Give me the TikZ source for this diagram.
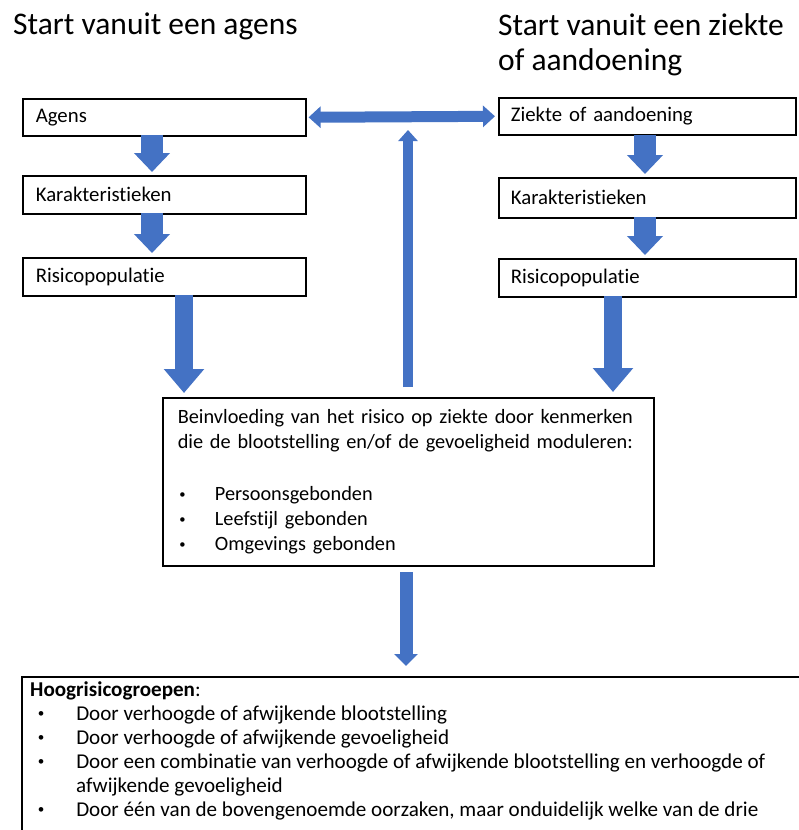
\documentclass[tikz,border=0pt]{standalone}
\usepackage{fontspec}
\setmainfont{Carlito}[Ligatures=NoCommon]
\usetikzlibrary{arrows.meta,positioning}
\definecolor{ablue}{HTML}{4472C4}
\newcommand\mybul{\makebox[0.5em][l]{\hspace{0.08em}\raisebox{0.12em}{\scalebox{0.62}{\textbullet}}}}
\tikzset{
  box/.style={draw=black, line width=1.6pt, anchor=north west, align=left, inner sep=0pt, font=\fontsize{20.8}{25}\selectfont},
  title/.style={anchor=base west, inner sep=0pt, font=\fontsize{31.5}{35}\selectfont, align=left},
  smallarr/.style={draw=ablue, line width=22pt, -{Triangle[width=35pt,length=19pt]}},
  bigarr/.style={draw=ablue, line width=18pt, -{Triangle[width=39pt,length=24pt]}},
  tips/.style={{Triangle[width=21pt,length=12pt]}-{Triangle[width=21pt,length=12pt]}},
}
\begin{document}
\begin{tikzpicture}[x=1pt,y=-1pt]
\useasboundingbox (0,0) rectangle (798,830);
% titles
\node[title] (t1) at (13,34) {Start vanuit een agens};
\node[title] (t2) at (498,70) {Start vanuit een ziekte\\of aandoening};
% left column boxes
\node[box, minimum width=283pt, minimum height=37pt, text width=283pt] (a1) at (22,98) {\hspace*{13pt}Agens};
\node[box, minimum width=283pt, minimum height=38pt, text width=283pt] (a2) at (22,175) {\hspace*{13pt}Karakteristieken};
\node[box, minimum width=283pt, minimum height=38pt, text width=283pt] (a3) at (22,257) {\hspace*{13pt}Risicopopulatie};
% right column boxes
\node[box, minimum width=297pt, minimum height=37pt, text width=297pt] (z1) at (498,97) {\hspace*{12pt}Ziekte of aandoening};
\node[box, minimum width=297pt, minimum height=40pt, text width=297pt] (z2) at (498,177) {\hspace*{12pt}Karakteristieken};
\node[box, minimum width=297pt, minimum height=38pt, text width=297pt] (z3) at (498,258) {\hspace*{12pt}Risicopopulatie};
% middle box
\node[box, minimum width=491pt, minimum height=168pt, text width=491pt, font=\fontsize{20.3}{25}\selectfont] (m) at (162,397) {%
\hspace*{15pt}Beinvloeding van het risico op ziekte door kenmerken\\
\hspace*{15pt}die de blootstelling en/of de gevoeligheid moduleren:\\[27pt]
\hspace*{15pt}\mybul\hspace{27pt}Persoonsgebonden\\
\hspace*{15pt}\mybul\hspace{27pt}Leefstijl gebonden\\
\hspace*{15pt}\mybul\hspace{27pt}Omgevings gebonden};
% bottom box
\draw[line width=1.6pt] (22,840) -- (22,677) -- (810,677);
\node[anchor=base west, inner sep=0pt, align=left, font=\fontsize{21.1}{24}\selectfont] (b) at (30,816) {%
\textbf{Hoogrisicogroepen}:\\
\hspace*{6pt}\mybul\hspace{29.5pt}Door verhoogde of afwijkende blootstelling\\
\hspace*{6pt}\mybul\hspace{29.5pt}Door verhoogde of afwijkende gevoeligheid\\
\hspace*{6pt}\mybul\hspace{29.5pt}Door een combinatie van verhoogde of afwijkende blootstelling en verhoogde of\\
\hspace*{46pt}afwijkende gevoeligheid\\
\hspace*{6pt}\mybul\hspace{29.5pt}Door één van de bovengenoemde oorzaken, maar onduidelijk welke van de drie};
% arrows left column
\draw[smallarr] (152,135) -- (152,172);
\draw[smallarr] (152,213) -- (152,253);
\draw[bigarr] (184,295) -- (184,393);
% arrows right column
\draw[smallarr] (645,135) -- (645,174);
\draw[smallarr] (645,217) -- (645,255);
\draw[bigarr] (613,296) -- (613,392);
% double arrow
\path (a1.east) ++(2,0) coordinate (dl) (z1.west) ++(-3,0) coordinate (dr);
\draw[draw=ablue, line width=11pt, tips] (dl) -- (dr);
% up arrow
\draw[draw=ablue, line width=10pt, -{Triangle[width=19pt,length=11pt]}] (408,387) -- (408,130);
% bottom arrow
\draw[draw=ablue, line width=13pt, -{Triangle[width=23pt,length=12pt]}] (406,572) -- (406,666);
\end{tikzpicture}
\end{document}
